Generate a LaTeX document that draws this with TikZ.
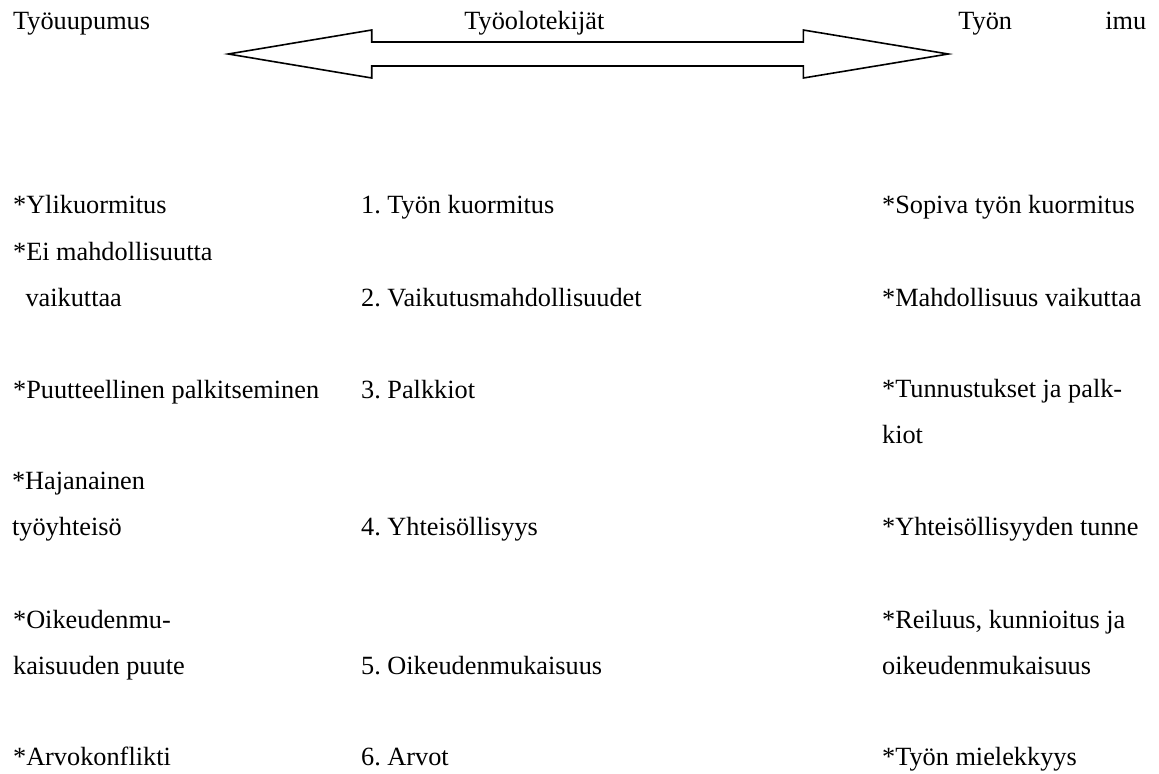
\documentclass[tikz,border=0pt]{standalone}
\usepackage{fontspec}
\setmainfont{Liberation Serif}
\usetikzlibrary{calc}
\frenchspacing
\tikzset{
    txt/.style={anchor=base west, inner sep=0pt, align=left, font=\fontsize{13.15pt}{23pt}\selectfont},
    blockarrow/.style={draw=black, line width=0.8pt, fill=white, line join=miter},
}

\begin{document}
\begin{tikzpicture}[x=0.5pt, y=-0.5pt]

\useasboundingbox (0,0) rectangle (1159,773);

% header row
\node[txt] (burnout) at (12.7,29.5) {Työuupumus};
\node[txt] (factors) at (464,29.5) {Työolotekijät};
\node[txt] (engage1) at (958,29.5) {Työn};
\node[txt] (engage2) at (1105,29.5) {imu};

% double block arrow
\coordinate (ltip) at (228.3,54);
\coordinate (rtip) at (948.3,54);
\coordinate (lbase) at (371.7,54);
\coordinate (rbase) at (803.3,54);
\draw[blockarrow] (ltip) -- ($(lbase)+(0,-24)$) -- ($(lbase)+(0,-12)$) -- ($(rbase)+(0,-12)$)
    -- ($(rbase)+(0,-24)$) -- (rtip) -- ($(rbase)+(0,24)$) -- ($(rbase)+(0,12)$)
    -- ($(lbase)+(0,12)$) -- ($(lbase)+(0,24)$) -- cycle;

% left column (multi-line nodes sit on their last baseline)
\node[txt] (l1) at (12.7,213) {*Ylikuormitus};
\node[txt] (l2) at (12.7,306) {*Ei mahdollisuutta\\\hspace*{6.2pt}vaikuttaa};
\node[txt] (l3) at (12.7,398) {*Puutteellinen palkitseminen};
\node[txt] (l4) at (11.7,535.7) {*Hajanainen\\työyhteisö};
\node[txt] (l5) at (12.7,674) {*Oikeudenmu-\\kaisuuden puute};
\node[txt] (l6) at (12.7,765) {*Arvokonflikti};

% middle column
\node[txt] (m1) at (360.7,213) {1. Työn kuormitus};
\node[txt] (m2) at (360.7,306) {2. Vaikutusmahdollisuudet};
\node[txt] (m3) at (360.7,398) {3. Palkkiot};
\node[txt] (m4) at (360.7,535.7) {4. Yhteisöllisyys};
\node[txt] (m5) at (360.7,674) {5. Oikeudenmukaisuus};
\node[txt] (m6) at (360.7,765) {6. Arvot};

% right column
\node[txt] (r1) at (881.7,213) {*Sopiva työn kuormitus};
\node[txt] (r2) at (881.7,306) {*Mahdollisuus vaikuttaa};
\node[txt] (r3) at (881.7,443) {*Tunnustukset ja palk-\\kiot};
\node[txt] (r4) at (881.7,535.7) {*Yhteisöllisyyden tunne};
\node[txt] (r5) at (881.7,674) {*Reiluus, kunnioitus ja\\oikeudenmukaisuus};
\node[txt] (r6) at (881.7,765) {*Työn mielekkyys};

\end{tikzpicture}
\end{document}
